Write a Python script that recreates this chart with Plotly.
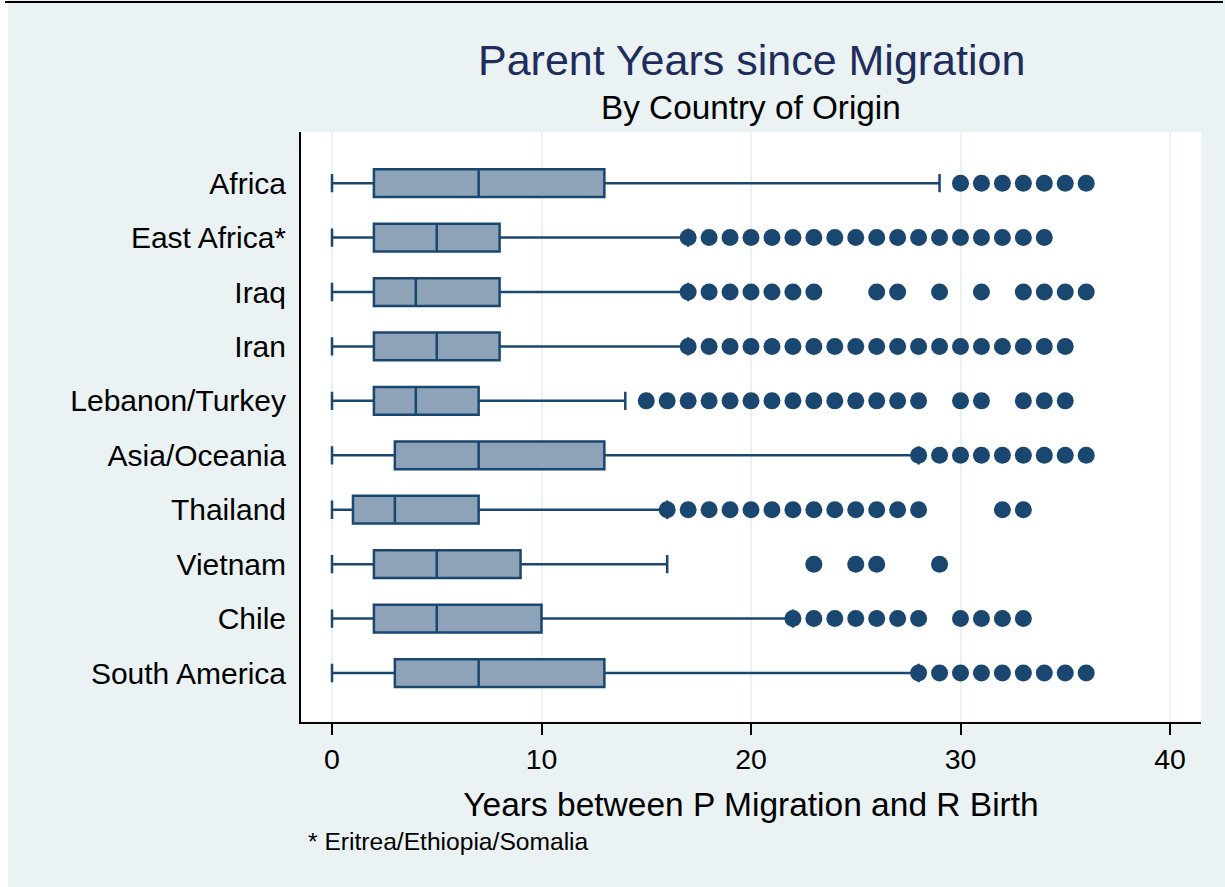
import plotly.graph_objects as go

# Country-of-origin groups, top to bottom
categories = ["Africa", "East Africa*", "Iraq", "Iran", "Lebanon/Turkey",
              "Asia/Oceania", "Thailand", "Vietnam", "Chile", "South America"]

# Box-plot summaries (years between parent migration and respondent birth)
lower_adj = [0, 0, 0, 0, 0, 0, 0, 0, 0, 0]
q1 = [2, 2, 2, 2, 2, 3, 1, 2, 2, 3]
median = [7, 5, 4, 5, 4, 7, 3, 5, 5, 7]
q3 = [13, 8, 8, 8, 7, 13, 7, 9, 10, 13]
upper_adj = [29, 17, 17, 17, 14, 28, 16, 16, 22, 28]

# Outside values per group
out_africa = [30, 31, 32, 33, 34, 35, 36]
out_east_africa = list(range(17, 35))
out_iraq = [17, 18, 19, 20, 21, 22, 23, 26, 27, 29, 31, 33, 34, 35, 36]
out_iran = list(range(17, 36))
out_lebanon = list(range(15, 29)) + [30, 31, 33, 34, 35]
out_asia = list(range(28, 37))
out_thailand = list(range(16, 29)) + [32, 33]
out_vietnam = [23, 25, 26, 29]
out_chile = [22, 23, 24, 25, 26, 27, 28, 30, 31, 32, 33]
out_south_america = list(range(28, 37))

outliers = [out_africa, out_east_africa, out_iraq, out_iran, out_lebanon,
            out_asia, out_thailand, out_vietnam, out_chile, out_south_america]

x_ticks = [0, 10, 20, 30, 40]

NAVY = "#1A476F"
FILL = "#8EA3B8"
BG = "#EAF2F3"
FONT = "Liberation Sans, Arial, Helvetica, sans-serif"

fig = go.Figure()

fig.add_trace(go.Box(
    y=categories,
    q1=q1, median=median, q3=q3,
    lowerfence=lower_adj, upperfence=upper_adj,
    orientation="h",
    boxpoints=False,
    fillcolor=FILL,
    line=dict(color=NAVY, width=2.5),
    width=0.51,
    whiskerwidth=0.66,
    showlegend=False,
))

ox, oy = [], []
for cat, vals in zip(categories, outliers):
    ox.extend(vals)
    oy.extend([cat] * len(vals))

fig.add_trace(go.Scatter(
    x=ox, y=oy, mode="markers",
    marker=dict(color=NAVY, size=17, line=dict(width=0)),
    showlegend=False,
))

# Plot-area geometry in pixels, used to place text in paper coordinates
W, H = 1225, 887
L, R, T, B = 301, 1201, 132, 722


def px_x(px):
    return (px - L) / (R - L)


def px_y(py):
    return (B - py) / (B - T)


fig.update_layout(
    width=W, height=H,
    margin=dict(l=L, r=W - R, t=T, b=H - B, pad=0),
    paper_bgcolor=BG,
    plot_bgcolor="white",
    font=dict(family=FONT, color="black"),
    boxmode="overlay",
    xaxis=dict(
        range=[-1.48, 41.48],
        tickvals=x_ticks,
        ticktext=[str(v) for v in x_ticks],
        showline=True, linecolor="black", linewidth=2,
        ticks="outside", ticklen=11, tickwidth=2, tickcolor="black",
        tickfont=dict(size=28.5, family=FONT, color="black"),
        showgrid=True, gridcolor=BG, gridwidth=2,
        zeroline=False,
        title=dict(text="Years between P Migration and R Birth",
                   font=dict(size=33.5, family=FONT, color="black"),
                   standoff=18),
    ),
    yaxis=dict(
        type="category",
        categoryorder="array", categoryarray=categories,
        range=[9.90, -0.94],
        showline=True, linecolor="black", linewidth=2,
        ticks="outside", ticklen=7, tickcolor="rgba(0,0,0,0)",
        tickfont=dict(size=30, family=FONT, color="black"),
        showgrid=False, zeroline=False,
    ),
    shapes=[
        dict(type="rect", xref="paper", yref="paper",
             x0=px_x(0), x1=px_x(8), y0=px_y(H), y1=px_y(0),
             fillcolor="white", line=dict(width=0)),
        dict(type="line", xref="paper", yref="paper",
             x0=px_x(5), x1=px_x(1223), y0=px_y(2), y1=px_y(2),
             line=dict(color="black", width=2)),
    ],
    annotations=[
        dict(text="Parent Years since Migration", xref="paper", yref="paper",
             x=0.5, y=px_y(60), xanchor="center", yanchor="middle",
             showarrow=False, font=dict(size=43, family=FONT, color="#1F2D5C")),
        dict(text="By Country of Origin", xref="paper", yref="paper",
             x=0.5, y=px_y(108), xanchor="center", yanchor="middle",
             showarrow=False, font=dict(size=33.3, family=FONT, color="black")),
        dict(text="* Eritrea/Ethiopia/Somalia", xref="paper", yref="paper",
             x=px_x(306), y=px_y(842), xanchor="left", yanchor="middle",
             showarrow=False, font=dict(size=24.6, family=FONT, color="black")),
    ],
)

fig.write_html("out.html")
